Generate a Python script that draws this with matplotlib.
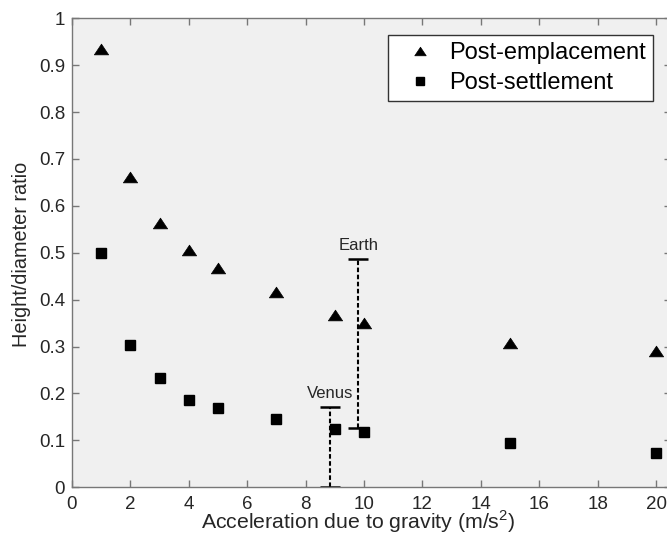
import matplotlib
matplotlib.use("Agg")
import matplotlib.pyplot as plt
from matplotlib.path import Path
from matplotlib.markers import MarkerStyle

plt.rcParams['font.family'] = ['Liberation Sans', 'DejaVu Sans']
plt.rcParams['mathtext.fontset'] = 'custom'
plt.rcParams['mathtext.rm'] = 'Liberation Sans'

gravity = [1, 2, 3, 4, 5, 7, 9, 10, 15, 20]
post_emplacement = [0.934, 0.662, 0.564, 0.506, 0.467, 0.417, 0.367, 0.350, 0.307, 0.291]
post_settlement = [0.499, 0.303, 0.234, 0.186, 0.170, 0.145, 0.124, 0.117, 0.095, 0.074]

planet_names = ["Venus", "Earth"]
planet_x = [8.84, 9.80]
planet_low = [0.0, 0.127]
planet_high = [0.172, 0.487]

xticks = [0, 2, 4, 6, 8, 10, 12, 14, 16, 18, 20]
yticks = [0, 0.1, 0.2, 0.3, 0.4, 0.5, 0.6, 0.7, 0.8, 0.9, 1]
ytick_labels = ["0", "0.1", "0.2", "0.3", "0.4", "0.5", "0.6", "0.7", "0.8", "0.9", "1"]

W, H = 667, 537
fig = plt.figure(figsize=(W / 100, H / 100), dpi=100)
ax = fig.add_axes([0.1079, 0.0926, 0.8975, 0.8734])
ax.set_facecolor('#f0f0f0')

tri = MarkerStyle(Path([(-1, -0.75), (1, -0.75), (0, 0.75), (-1, -0.75)],
                       [Path.MOVETO, Path.LINETO, Path.LINETO, Path.CLOSEPOLY]))

ax.plot(gravity, post_emplacement, linestyle='none', marker=tri, color='black',
        markersize=10.3, markeredgewidth=0.5, label='Post-emplacement')
ax.plot(gravity, post_settlement, linestyle='none', marker='s', color='black',
        markersize=7.4, label='Post-settlement')

for name, x, lo, hi in zip(planet_names, planet_x, planet_low, planet_high):
    ax.plot([x, x], [lo, hi], color='black', linestyle=(0, (2.2, 1.2)), linewidth=1.5, zorder=1)
    ax.plot([x - 0.34, x + 0.34], [lo, lo], color='black', linewidth=1.8, solid_capstyle='butt', zorder=1)
    ax.plot([x - 0.34, x + 0.34], [hi, hi], color='black', linewidth=1.8, solid_capstyle='butt', zorder=1)
    ax.text(x, hi + 0.018, name, ha='center', va='baseline', fontsize=12, color='#262626')

ax.set_xlim(0, 20.5)
ax.set_ylim(0, 1)
ax.set_xticks(xticks)
ax.set_yticks(yticks)
ax.set_yticklabels(ytick_labels)
ax.tick_params(direction='in', length=5, width=1, colors='#777777', labelcolor='#262626',
               labelsize=13.5, top=True, right=True)
ax.tick_params(axis='x', pad=6)
ax.tick_params(axis='y', pad=5)
for s in ax.spines.values():
    s.set_color('#777777')
    s.set_linewidth(1)

ax.set_xlabel('Acceleration due to gravity (m/s$^2$)', fontsize=15.3, color='#262626')
ax.xaxis.set_label_coords(0.478, -0.046)
ax.set_ylabel('Height/diameter ratio', fontsize=14.3, color='#262626')
ax.yaxis.set_label_coords(-0.0685, 0.496)

leg = ax.legend(loc='upper right', bbox_to_anchor=(0.9706, 0.9644), borderaxespad=0,
                fontsize=17, frameon=True, fancybox=False, edgecolor='#333333', framealpha=1,
                handletextpad=0.2, borderpad=0.3, labelspacing=0.35, handlelength=2.1,
                markerscale=0.8)
leg.get_frame().set_linewidth(1)

fig.savefig('out.png', dpi=100)
